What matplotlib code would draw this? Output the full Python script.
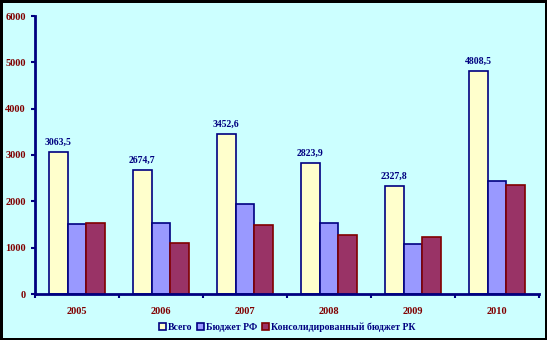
import matplotlib.pyplot as plt
import numpy as np
from matplotlib.patches import Rectangle

years = ['2005', '2006', '2007', '2008', '2009', '2010']
vsego = [3063.5, 2674.7, 3452.6, 2823.9, 2327.8, 4808.5]
budget_rf = [1510, 1530, 1950, 1530, 1075, 2435]
budget_rk = [1530, 1100, 1490, 1270, 1225, 2350]
labels = ['Всего', 'Бюджет РФ', 'Консолидированный бюджет РК']

plt.rcParams['font.family'] = ['Liberation Serif', 'DejaVu Serif']
plt.rcParams['font.weight'] = 'bold'

navy = '#000080'
dred = '#800000'

fig = plt.figure(figsize=(5.47, 3.4), dpi=100)
fig.patch.set_facecolor('black')
# cyan panel inside the black frame
fig.add_artist(Rectangle((3 / 547, 2 / 340), 542 / 547, 335 / 340,
                         transform=fig.transFigure, facecolor='#CCFFFF',
                         edgecolor='none', zorder=-1))

ax = fig.add_axes([35 / 547, 1 - 294 / 340, 504 / 547, 278 / 340])
ax.set_facecolor('none')

x = np.arange(len(years))
w = 0.225
ax.bar(x - w, vsego, w, color='#FFFFCC', edgecolor=navy, linewidth=1.2, label=labels[0])
ax.bar(x, budget_rf, w, color='#9999FF', edgecolor=navy, linewidth=1.2, label=labels[1])
ax.bar(x + w, budget_rk, w, color='#993366', edgecolor=dred, linewidth=1.2, label=labels[2])

for xi, v in zip(x, vsego):
    ax.text(xi - w, v + 120, f'{v:.1f}'.replace('.', ','), ha='center', va='bottom',
            color=navy, fontsize=7, fontweight='bold')

ax.set_xlim(-0.5, len(years) - 0.5)
ax.set_ylim(0, 6000)
ax.set_yticks(range(0, 6001, 1000))
ax.set_xticks(x)
ax.set_xticklabels(years)
ax.set_xticks(np.arange(-0.5, len(years)), minor=True)
ax.tick_params(axis='x', which='major', length=0, pad=9, labelcolor=dred, labelsize=7.5)
ax.tick_params(axis='x', which='minor', length=3, width=1.5, color=navy, direction='out')
ax.tick_params(axis='y', length=3, width=1.5, color=navy, labelcolor=dred, labelsize=7.5)
for lab in ax.get_xticklabels() + ax.get_yticklabels():
    lab.set_fontweight('bold')

for s in ['top', 'right']:
    ax.spines[s].set_visible(False)
ax.spines['left'].set_color(navy)
ax.spines['bottom'].set_color(navy)
ax.spines['left'].set_linewidth(2)
ax.spines['bottom'].set_linewidth(2)

leg = fig.legend(loc='center', bbox_to_anchor=(0.525, 0.038), ncol=3, frameon=False,
                 fontsize=7, handlelength=0.8, handleheight=0.8, handletextpad=0.2,
                 columnspacing=0.4)
for t in leg.get_texts():
    t.set_color(navy)
    t.set_fontweight('bold')

fig.savefig('out.png', dpi=100, facecolor=fig.get_facecolor())
